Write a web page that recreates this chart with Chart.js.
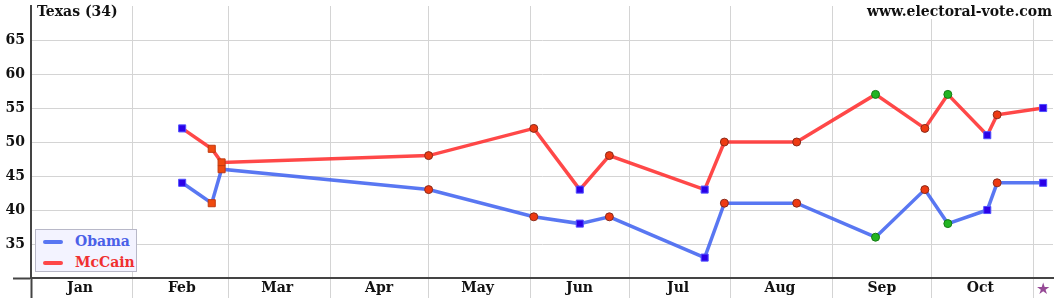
<!DOCTYPE html>
<html lang="en">
<head>
<meta charset="UTF-8">
<title>Texas (34)</title>
<script src="https://cdn.jsdelivr.net/npm/chart.js@4.4.1/dist/chart.umd.min.js"></script>
<style>
  body { margin: 0; background: #fff; }
  #wrap { position: relative; width: 1060px; height: 300px; }
  #legend {
    position: absolute; left: 35px; top: 229px; width: 100px; height: 41px;
    background: #f3f3ff; border: 1px solid #b8b8c8;
    font: bold 14px "DejaVu Serif", serif;
  }
  #legend div { height: 20px; line-height: 20px; margin-top: 1px; white-space: nowrap; }
  #legend span.swatch {
    display: inline-block; width: 20px; height: 4px; border-radius: 2px;
    margin: 0 12px 0 7px; vertical-align: middle;
  }
</style>
</head>
<body>
<div id="wrap">
  <canvas id="chart" width="1060" height="300"></canvas>
  <div id="legend"></div>
</div>
<script>
// poll dates, 2008
const pollDates = ['2008-02-16', '2008-02-25', '2008-02-28', '2008-05-01', '2008-06-02', '2008-06-16',
                   '2008-06-25', '2008-07-24', '2008-07-30', '2008-08-21', '2008-09-14', '2008-09-29',
                   '2008-10-06', '2008-10-18', '2008-10-21', '2008-11-04'];
const obama  = [44, 41, 46, 43, 39, 38, 39, 33, 41, 41, 36, 43, 38, 40, 44, 44];
const mccain = [52, 49, 47, 48, 52, 43, 48, 43, 50, 50, 57, 52, 57, 51, 54, 55];
// marker kind per poll (b = blue square, o = orange square, r = red dot, g = green dot)
const pollKind = ['b', 'o', 'o', 'r', 'r', 'b', 'r', 'b', 'r', 'r', 'g', 'r', 'g', 'b', 'r', 'b'];

const monthStarts = ['2008-01-01', '2008-02-01', '2008-03-01', '2008-04-01', '2008-05-01', '2008-06-01',
                     '2008-07-01', '2008-08-01', '2008-09-01', '2008-10-01', '2008-11-01'];
const monthLabels = ['Jan', 'Feb', 'Mar', 'Apr', 'May', 'Jun', 'Jul', 'Aug', 'Sep', 'Oct', ''];
const electionDay = '2008-11-04';

const dayOfYear = d => (Date.parse(d) - Date.parse('2008-01-01')) / 864e5;

const markerStyle = {
  b: { shape: 'rect',   radius: 5, fill: '#2a00e8', edge: '#5050ff' },
  o: { shape: 'rect',   radius: 5, fill: '#f04a10', edge: '#c03a10' },
  r: { shape: 'circle', radius: 4, fill: '#ee3a12', edge: '#8a2a1a' },
  g: { shape: 'circle', radius: 4, fill: '#22b422', edge: '#157a15' }
};

const FONT = '"DejaVu Serif", serif';
const AXIS = '#444';
const GRID = '#d4d4d4';

function series(label, values, color, textColor) {
  return {
    label: label,
    textColor: textColor,
    data: values.map((v, i) => ({ x: dayOfYear(pollDates[i]), y: v })),
    borderColor: color,
    borderWidth: 3.5,
    tension: 0,
    pointStyle: pollKind.map(k => markerStyle[k].shape),
    pointRadius: pollKind.map(k => markerStyle[k].radius),
    pointBackgroundColor: pollKind.map(k => markerStyle[k].fill),
    pointBorderColor: pollKind.map(k => markerStyle[k].edge),
    pointBorderWidth: 1
  };
}

const decorations = {
  id: 'decorations',
  afterDraw(chart) {
    const ctx = chart.ctx;
    const area = chart.chartArea;
    ctx.save();
    ctx.font = 'bold 14px ' + FONT;
    ctx.textBaseline = 'alphabetic';
    ctx.fillStyle = '#111';
    ctx.textAlign = 'left';
    ctx.fillText('Texas (34)', area.left + 6, 16);

    const site = 'www.electoral-vote.com';
    const w = ctx.measureText(site).width;
    ctx.fillStyle = '#fff';
    ctx.fillRect(area.right - w - 3, 0, w + 4, 19);
    ctx.fillStyle = '#111';
    ctx.textAlign = 'right';
    ctx.fillText(site, area.right - 1, 16);

    // election day marker under the axis
    ctx.font = '16px "DejaVu Sans"';
    ctx.textAlign = 'center';
    ctx.fillStyle = '#964a96';
    ctx.fillText('\u2605', chart.scales.x.getPixelForValue(dayOfYear(electionDay)), 294);
    ctx.restore();
  }
};

const chart = new Chart(document.getElementById('chart'), {
  type: 'line',
  data: {
    datasets: [
      series('Obama', obama, 'rgba(60,95,240,0.85)', '#4a60e8'),
      series('McCain', mccain, 'rgba(255,40,40,0.85)', '#f03030')
    ]
  },
  options: {
    responsive: false,
    animation: false,
    layout: { padding: { top: 5, right: 7, left: 0, bottom: 0 } },
    plugins: { legend: { display: false }, tooltip: { enabled: false } },
    scales: {
      x: {
        type: 'linear',
        min: 0,
        max: 311,
        afterBuildTicks: scale => { scale.ticks = monthStarts.map(d => ({ value: dayOfYear(d) })); },
        afterFit: scale => { scale.height = 22; },
        ticks: {
          autoSkip: false,
          maxRotation: 0,
          padding: -18,
          labelOffset: 49,
          color: '#111',
          font: { family: FONT, size: 14, weight: 'bold' },
          callback: (v, i) => monthLabels[i]
        },
        grid: {
          color: GRID,
          tickLength: 20,
          tickColor: c => c.tick && c.tick.value === 0 ? AXIS : GRID,
          tickWidth: c => c.tick && c.tick.value === 0 ? 2 : 1
        },
        border: { color: AXIS, width: 2 }
      },
      y: {
        min: 30,
        max: 70,
        afterFit: scale => { scale.width = 31; },
        ticks: {
          stepSize: 5,
          padding: -12,
          color: '#111',
          font: { family: FONT, size: 14, weight: 'bold' },
          callback: v => (v === 30 || v === 70) ? '' : v
        },
        grid: {
          tickLength: 18,
          color: c => c.tick.value === 70 ? 'rgba(0,0,0,0)' : (c.tick.value === 30 ? AXIS : GRID),
          tickColor: c => c.tick && c.tick.value === 30 ? AXIS : 'rgba(0,0,0,0)',
          tickWidth: c => c.tick && c.tick.value === 30 ? 2 : 1
        },
        border: { color: AXIS, width: 2 }
      }
    }
  },
  plugins: [decorations]
});

// legend box inside the plot, built from the datasets
const legend = document.getElementById('legend');
chart.data.datasets.forEach(ds => {
  const row = document.createElement('div');
  row.style.color = ds.textColor;
  const sw = document.createElement('span');
  sw.className = 'swatch';
  sw.style.background = ds.borderColor;
  row.appendChild(sw);
  row.appendChild(document.createTextNode(ds.label));
  legend.appendChild(row);
});
</script>
</body>
</html>
